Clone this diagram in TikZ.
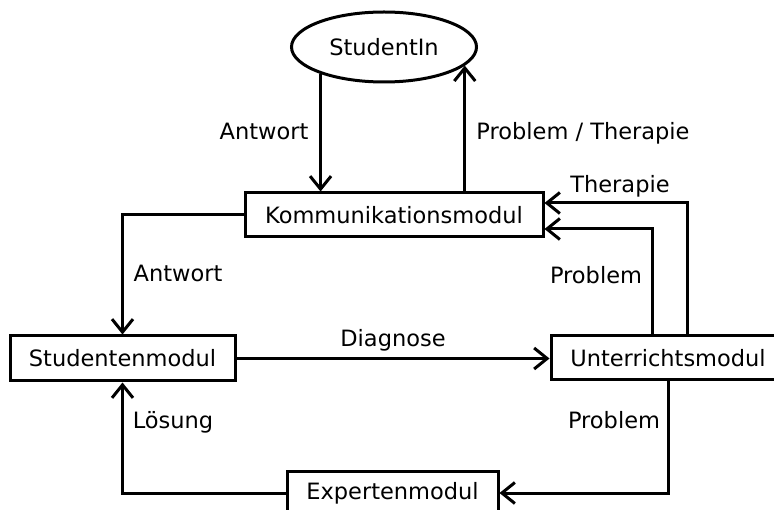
\documentclass[tikz,border=0pt]{standalone}
\usepackage{fontspec}
\setmainfont{DejaVu Sans}
\usetikzlibrary{arrows.meta,shapes.geometric,calc}

\tikzset{
  modul/.style={draw, line width=3pt, fill=white, inner sep=0pt,
    minimum height=44pt, font=\fontsize{22.5}{26}\selectfont},
  person/.style={draw, ellipse, line width=3pt, inner sep=0pt,
    minimum width=185pt, minimum height=70pt, font=\fontsize{22.5}{26}\selectfont},
  arr/.style={line width=3pt, -{Straight Barb[length=13pt,width=21pt]}},
  lbl/.style={anchor=base, inner sep=0pt, font=\fontsize{22.5}{26}\selectfont},
}

\begin{document}
\begin{tikzpicture}[x=1pt,y=-1pt]
  \useasboundingbox (0,0) rectangle (774,510);
  \clip (0,0) rectangle (774,510);

  % participants
  \node[person] (stud) at (384,47) {StudentIn};
  \node[modul, minimum width=298pt] (komm) at (394,215) {Kommunikationsmodul};
  \node[modul, minimum width=225pt, minimum height=45pt] (smod) at (122.5,358.5) {Studentenmodul};
  \node[modul, minimum width=234pt] (unt) at (668,358) {Unterrichtsmodul};
  \node[modul, minimum width=211pt] (exp) at (392.5,493) {Expertenmodul};

  % learner <-> communication module
  \draw[arr] (stud.203) -- (stud.203 |- komm.north);
  \draw[arr] (komm.north -| stud.347) -- (stud.347);

  % communication module -> student module
  \draw[arr] (komm.west) -| (smod.north);

  % student module -> tutoring module
  \draw[arr] (smod.east) -- (smod.east -| unt.west);

  % tutoring module -> communication module
  \coordinate (pin) at ($(komm.east)+(0,14)$);
  \coordinate (tin) at ($(komm.east)+(0,-12)$);
  \draw[arr] ($(unt.north)+(-16,0)$) |- (pin);
  \draw[arr] ($(unt.north)+(19,0)$) |- (tin);

  % tutoring module -> expert module -> student module
  \draw[arr] (unt.south) |- (exp.east);
  \draw[arr] (exp.west) -| (smod.south);

  % labels
  \node[lbl] (l1) at (264,140) {Antwort};
  \node[lbl] (l2) at (583,140) {Problem / Therapie};
  \node[lbl] (l3) at (178,282) {Antwort};
  \node[lbl] (l4) at (393,347) {Diagnose};
  \node[lbl] (l5) at (596,284) {Problem};
  \node[lbl] (l6) at (620,193) {Therapie};
  \node[lbl] (l7) at (173,429) {Lösung};
  \node[lbl] (l8) at (614,429) {Problem};
\end{tikzpicture}
\end{document}
